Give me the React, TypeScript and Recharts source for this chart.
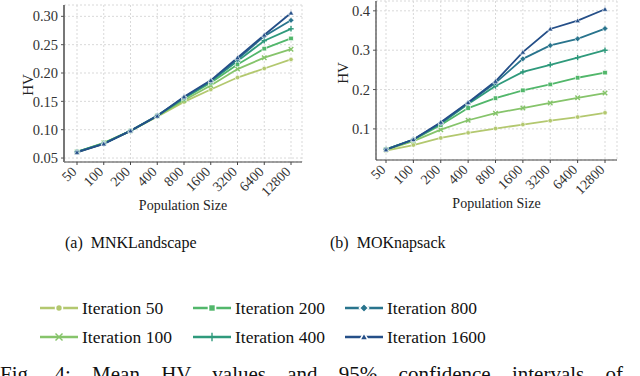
import React from 'react';
import { LineChart, Line, XAxis, YAxis, CartesianGrid, Label } from 'recharts';

const popSizes = ['50', '100', '200', '400', '800', '1600', '3200', '6400', '12800'];

// (a) MNKLandscape
const mnkIter50 = [0.060, 0.076, 0.098, 0.123, 0.149, 0.171, 0.192, 0.208, 0.224];
const mnkIter100 = [0.061, 0.077, 0.098, 0.124, 0.152, 0.178, 0.207, 0.227, 0.242];
const mnkIter200 = [0.061, 0.076, 0.098, 0.124, 0.155, 0.183, 0.215, 0.243, 0.261];
const mnkIter400 = [0.061, 0.076, 0.098, 0.124, 0.156, 0.185, 0.221, 0.257, 0.278];
const mnkIter800 = [0.061, 0.075, 0.098, 0.125, 0.157, 0.186, 0.224, 0.265, 0.293];
const mnkIter1600 = [0.060, 0.075, 0.098, 0.124, 0.158, 0.187, 0.227, 0.267, 0.306];

// (b) MOKnapsack
const mokIter50 = [0.045, 0.059, 0.077, 0.090, 0.101, 0.111, 0.121, 0.130, 0.141];
const mokIter100 = [0.047, 0.069, 0.098, 0.122, 0.140, 0.153, 0.166, 0.179, 0.191];
const mokIter200 = [0.048, 0.072, 0.110, 0.153, 0.178, 0.198, 0.213, 0.230, 0.243];
const mokIter400 = [0.048, 0.073, 0.113, 0.163, 0.209, 0.245, 0.263, 0.281, 0.300];
const mokIter800 = [0.048, 0.073, 0.115, 0.166, 0.217, 0.278, 0.312, 0.329, 0.355];
const mokIter1600 = [0.047, 0.073, 0.117, 0.167, 0.221, 0.295, 0.354, 0.375, 0.404];

const mnkTicks = [0.05, 0.1, 0.15, 0.2, 0.25, 0.3];
const mokTicks = [0.1, 0.2, 0.3, 0.4];

const series = [
  { key: 'it50', label: 'Iteration 50', color: '#b3c86f', shape: 'circle' },
  { key: 'it100', label: 'Iteration 100', color: '#86c46b', shape: 'x' },
  { key: 'it200', label: 'Iteration 200', color: '#52b76b', shape: 'square' },
  { key: 'it400', label: 'Iteration 400', color: '#2f9a7c', shape: 'plus' },
  { key: 'it800', label: 'Iteration 800', color: '#29748d', shape: 'diamond' },
  { key: 'it1600', label: 'Iteration 1600', color: '#254f88', shape: 'triangle' },
];

const FONT = "'Liberation Serif', 'Times New Roman', serif";

function buildRows(values: number[][]) {
  return popSizes.map((pop, i) => {
    const row: Record<string, any> = { pop };
    series.forEach((s, j) => {
      row[s.key] = values[j][i];
    });
    return row;
  });
}

const mnkData = buildRows([mnkIter50, mnkIter100, mnkIter200, mnkIter400, mnkIter800, mnkIter1600]);
const mokData = buildRows([mokIter50, mokIter100, mokIter200, mokIter400, mokIter800, mokIter1600]);

function Marker({ shape, cx, cy, color, size, edge = 0.6 }: any) {
  if (cx == null || cy == null) return null;
  const r = size / 2;
  switch (shape) {
    case 'circle':
      return <circle cx={cx} cy={cy} r={r} fill={color} stroke="#fff" strokeWidth={edge} />;
    case 'square':
      return <rect x={cx - r} y={cy - r} width={size} height={size} fill={color} stroke="#fff" strokeWidth={edge} />;
    case 'diamond': {
      const d = r * 1.3;
      return (
        <polygon
          points={`${cx},${cy - d} ${cx + d},${cy} ${cx},${cy + d} ${cx - d},${cy}`}
          fill={color}
          stroke="#fff"
          strokeWidth={edge}
        />
      );
    }
    case 'triangle': {
      const d = r * 1.2;
      return (
        <polygon
          points={`${cx},${cy - d} ${cx + d},${cy + d * 0.75} ${cx - d},${cy + d * 0.75}`}
          fill={color}
          stroke="#fff"
          strokeWidth={edge}
        />
      );
    }
    case 'x':
      return (
        <g stroke={color} strokeWidth={1.4}>
          <line x1={cx - r} y1={cy - r} x2={cx + r} y2={cy + r} />
          <line x1={cx - r} y1={cy + r} x2={cx + r} y2={cy - r} />
        </g>
      );
    case 'plus':
      return (
        <g stroke={color} strokeWidth={1.4}>
          <line x1={cx - r * 1.2} y1={cy} x2={cx + r * 1.2} y2={cy} />
          <line x1={cx} y1={cy - r * 1.2} x2={cx} y2={cy + r * 1.2} />
        </g>
      );
    default:
      return null;
  }
}

const RotatedTick = ({ x, y, payload }: any) => (
  <g transform={`translate(${x - 3},${y + 2})`}>
    <text textAnchor="end" transform="rotate(-45)" dy="0.35em" fontSize={14} fontFamily={FONT} fill="#333">
      {payload.value}
    </text>
  </g>
);

function Panel({ data, ticks, domain, width, height, margin, yAxisWidth, xAxisHeight, padding, hv, yLine }: any) {
  return (
    <LineChart width={width} height={height} data={data} margin={margin}>
      <CartesianGrid stroke="#d9d9d9" strokeDasharray="2 2" />
      <XAxis
        dataKey="pop"
        height={xAxisHeight}
        padding={padding}
        interval={0}
        tick={<RotatedTick />}
        tickSize={3}
        tickMargin={2}
        stroke="#444"
      >
        <Label
          content={({ viewBox }: any) => (
            <text
              x={viewBox.x + viewBox.width / 2}
              y={viewBox.y + 43}
              dy="0.35em"
              textAnchor="middle"
              fontSize={14}
              fontFamily={FONT}
              fill="#222"
            >
              Population Size
            </text>
          )}
        />
      </XAxis>
      <YAxis
        width={yAxisWidth}
        type="number"
        domain={domain}
        ticks={ticks}
        allowDataOverflow
        tickFormatter={(v: number) => (ticks.length > 4 ? v.toFixed(2) : v.toFixed(1))}
        tick={{ fontSize: 14.5, fontFamily: FONT, fill: '#333' }}
        tickSize={3}
        tickMargin={3}
        axisLine={{ stroke: yLine.color, strokeWidth: yLine.width }}
        tickLine={{ stroke: '#555' }}
      >
        <Label
          content={() => (
            <text
              x={hv.x}
              y={hv.y}
              transform={`rotate(-90 ${hv.x} ${hv.y})`}
              dy="0.35em"
              textAnchor="middle"
              fontSize={15}
              fontFamily={FONT}
              fill="#222"
            >
              HV
            </text>
          )}
        />
      </YAxis>
      {series.map((s) => (
        <Line
          key={s.key}
          dataKey={s.key}
          stroke={s.color}
          strokeWidth={1.8}
          isAnimationActive={false}
          dot={(p: any) => (
            <Marker key={`${s.key}-${p.index}`} shape={s.shape} cx={p.cx} cy={p.cy} color={s.color} size={4.5} />
          )}
          activeDot={false}
        />
      ))}
    </LineChart>
  );
}

function LegendItem({ s }: any) {
  return (
    <div style={{ display: 'flex', alignItems: 'center', height: 29 }}>
      <svg width={40} height={16} style={{ display: 'block' }}>
        <line x1={0} y1={8} x2={38} y2={8} stroke={s.color} strokeWidth={2.5} />
        <Marker shape={s.shape} cx={19} cy={8} color={s.color} size={7} edge={1.6} />
      </svg>
      <span style={{ marginLeft: 2, fontSize: 17.5, color: '#111', whiteSpace: 'nowrap' }}>{s.label}</span>
    </div>
  );
}

const legendColumns = [
  { left: 40, items: [series[0], series[1]] },
  { left: 193, items: [series[2], series[3]] },
  { left: 345, items: [series[4], series[5]] },
];

export default function App() {
  return (
    <div
      style={{
        position: 'absolute',
        left: 0,
        top: 0,
        width: 640,
        height: 376,
        overflow: 'hidden',
        background: '#fff',
        fontFamily: FONT,
      }}
    >
      <div style={{ position: 'absolute', left: 0, top: 0 }}>
        <Panel
          data={mnkData}
          ticks={mnkTicks}
          domain={[0.043, 0.32]}
          width={310}
          height={215}
          margin={{ top: 5, right: 8, left: 0, bottom: 0 }}
          yAxisWidth={64}
          xAxisHeight={53}
          padding={{ left: 13, right: 11 }}
          hv={{ x: 28, y: 85 }}
          yLine={{ color: '#777', width: 2 }}
        />
      </div>
      <div style={{ position: 'absolute', left: 310, top: 0 }}>
        <Panel
          data={mokData}
          ticks={mokTicks}
          domain={[0.021, 0.425]}
          width={320}
          height={215}
          margin={{ top: 1, right: 13, left: 0, bottom: 0 }}
          yAxisWidth={66}
          xAxisHeight={55}
          padding={{ left: 10, right: 12 }}
          hv={{ x: 33, y: 73 }}
          yLine={{ color: '#444', width: 1.2 }}
        />
      </div>

      <div style={{ position: 'absolute', left: 65, top: 233, fontSize: 16, lineHeight: '20px', whiteSpace: 'pre', color: '#111' }}>
        {'(a)  MNKLandscape'}
      </div>
      <div style={{ position: 'absolute', left: 330, top: 233, fontSize: 16, lineHeight: '20px', whiteSpace: 'pre', color: '#111' }}>
        {'(b)  MOKnapsack'}
      </div>

      {legendColumns.map((col, i) => (
        <div key={i} style={{ position: 'absolute', left: col.left, top: 293.5 }}>
          {col.items.map((s) => (
            <LegendItem key={s.key} s={s} />
          ))}
        </div>
      ))}

      <div
        style={{
          position: 'absolute',
          left: 0,
          top: 364,
          fontSize: 21,
          lineHeight: '21px',
          wordSpacing: 16,
          whiteSpace: 'nowrap',
          color: '#111',
        }}
      >
        Fig. 4: Mean HV values and 95% confidence intervals of final
      </div>
    </div>
  );
}
